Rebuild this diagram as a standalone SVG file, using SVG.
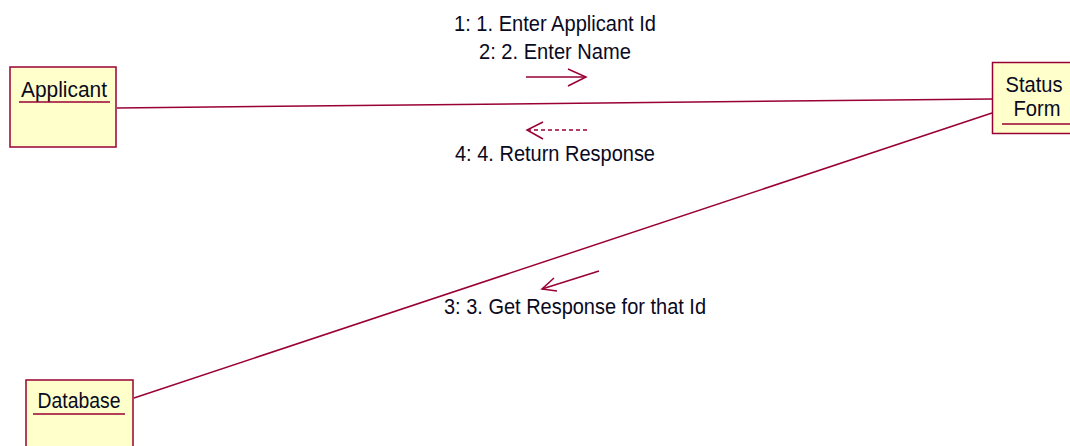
<svg xmlns="http://www.w3.org/2000/svg" width="1070" height="446" viewBox="0 0 1070 446">
<defs>
<style>
.box{fill:#FFFFCC;stroke:#990033;stroke-width:1.5}
.ul{stroke:#990033;stroke-width:1.5}
.lnk{stroke:#990033;stroke-width:1.5;fill:none}
.msg{stroke:#990033;stroke-width:1.5;fill:none}
.dash{stroke-dasharray:4,3}
text{font-family:"Liberation Sans",Arial,sans-serif;font-size:22px;fill:#0a0a1e}
.c{text-anchor:middle}
</style>
</defs>
<rect width="1070" height="446" fill="#ffffff"/>
<g id="connectors">
<line class="lnk" x1="117" y1="108" x2="992" y2="99"/>
<line class="lnk" x1="134" y1="398" x2="992" y2="113"/>
<g id="msg1">
<line class="msg" x1="526" y1="77" x2="586" y2="77"/>
<polyline class="msg" points="568,69 586,77 568,86"/>
<text class="c" x="555" y="31" textLength="202" lengthAdjust="spacingAndGlyphs">1: 1. Enter Applicant Id</text>
<text class="c" x="555" y="59" textLength="152" lengthAdjust="spacingAndGlyphs">2: 2. Enter Name</text>
</g>
<g id="msg4">
<line class="msg dash" x1="587" y1="130" x2="528" y2="130"/>
<polyline class="msg" points="543,122 527,130 543,139"/>
<text class="c" x="555" y="161" textLength="200" lengthAdjust="spacingAndGlyphs">4: 4. Return Response</text>
</g>
<g id="msg3">
<line class="msg" x1="599" y1="271" x2="542" y2="289"/>
<polyline class="msg" points="554,278 542,289 557,291"/>
<text class="c" x="575" y="314" textLength="262" lengthAdjust="spacingAndGlyphs">3: 3. Get Response for that Id</text>
</g>
</g>
<g id="applicant">
<rect class="box" x="10" y="67" width="106" height="80"/>
<text class="c" x="64" y="97" textLength="86" lengthAdjust="spacingAndGlyphs">Applicant</text>
<line class="ul" x1="19" y1="102" x2="110" y2="102"/>
</g>
<g id="status-form">
<rect class="box" x="992.5" y="62.5" width="90" height="71"/>
<text class="c" x="1034" y="92" textLength="57" lengthAdjust="spacingAndGlyphs">Status</text>
<text class="c" x="1037" y="116" textLength="47" lengthAdjust="spacingAndGlyphs">Form</text>
<line class="ul" x1="1002" y1="124" x2="1070" y2="124"/>
</g>
<g id="database">
<rect class="box" x="26" y="380" width="107" height="80"/>
<text class="c" x="79" y="408" textLength="83" lengthAdjust="spacingAndGlyphs">Database</text>
<line class="ul" x1="33" y1="414" x2="125" y2="414"/>
</g>
</svg>
